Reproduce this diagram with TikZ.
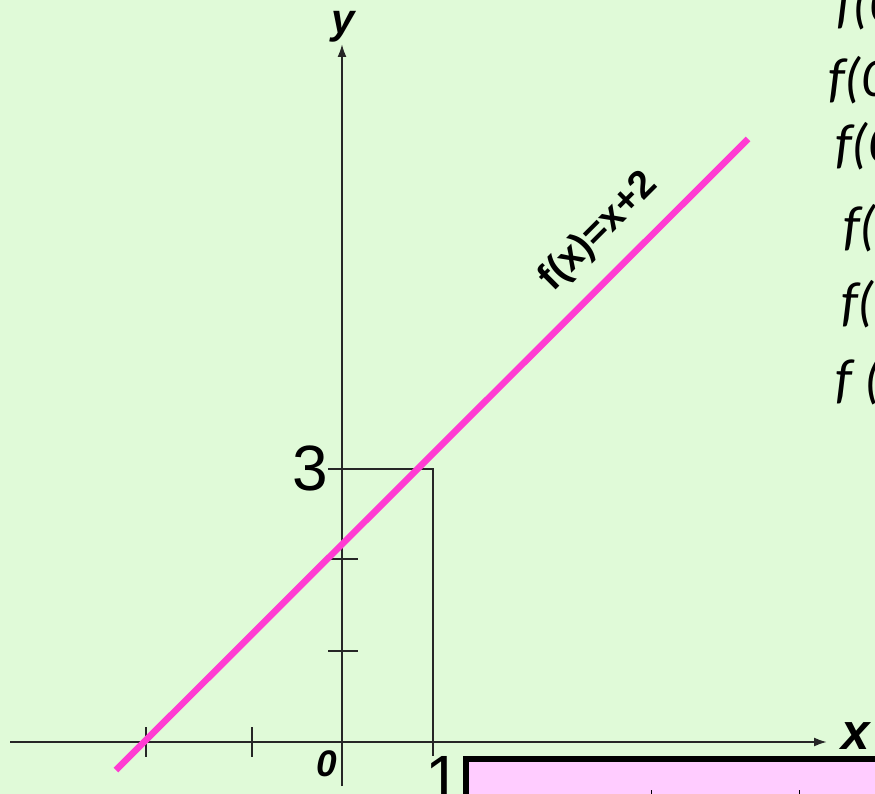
\documentclass[tikz,border=0pt]{standalone}
\usepackage{fontspec}
\setmainfont{Liberation Sans}
\newfontfamily\calibfont{Carlito}
\usetikzlibrary{arrows.meta}
\definecolor{bgc}{RGB}{224,250,216}
\definecolor{linec}{RGB}{255,60,210}
\definecolor{boxc}{RGB}{255,204,255}
\tikzset{
  axis/.style={line width=2pt, draw=black!85, -{Latex[length=13pt,width=9pt]}},
  thin/.style={line width=2pt, draw=black!85},
  lbl/.style={inner sep=0pt, outer sep=0pt, anchor=base west},
  rtxt/.style={inner sep=0pt, outer sep=0pt, anchor=base west, font=\calibfont\itshape\fontsize{55}{55}\selectfont},
}
\begin{document}
\begin{tikzpicture}[x=1pt,y=-1pt]
\useasboundingbox (0,0) rectangle (875,794);
\clip (0,0) rectangle (875,794);
\fill[bgc] (0,0) rectangle (875,794);
% coordinates
\coordinate (xs) at (10,742);
\coordinate (xe) at (827,742);
\coordinate (ys) at (342,786);
\coordinate (ye) at (342,44);
\coordinate (p3) at (328,469);
\coordinate (q3) at (433,469);
\coordinate (q1) at (433,756);
\coordinate (la) at (116,770);
\coordinate (lb) at (748,139);
% box
\node[draw=black, line width=6pt, fill=boxc, minimum width=500pt, minimum height=150pt, anchor=north west, inner sep=0pt] (box) at (463,756) {};
\draw[line width=0.8pt] (651,790) -- (651,794) (799,790) -- (799,794);
% axes
\draw[axis] (xs) -- (xe);
\draw[axis] (ys) -- (ye);
% ticks
\draw[thin] (146,727) -- (146,757);
\draw[thin] (252,727) -- (252,757);
\draw[thin] (328,651) -- (358,651);
\draw[thin] (328,559) -- (358,559);
\draw[line width=2.8pt, draw=black!85] (403,742) -- (417,742);
% guide lines for point (1,3)
\draw[thin] (p3) -- (q3) -- (q1);
% function line
\draw[linec, line width=6.5pt] (la) -- (lb);
\node[inner sep=0pt, rotate=45, font=\bfseries\fontsize{39}{39}\selectfont] (fl) at (599,232) {f(x)=x+2};
% labels
\node[lbl, font=\bfseries\itshape\fontsize{42}{42}\selectfont] (ylab) at (331,34) {y};
\node[lbl, font=\bfseries\itshape\fontsize{51}{51}\selectfont] (xlab) at (841,749) {x};
\node[lbl, font=\bfseries\itshape\fontsize{37}{37}\selectfont] (zlab) at (316,776) {0};
\node[lbl, font=\fontsize{64}{64}\selectfont] (tlab) at (292,490) {3};
\node[lbl, font=\fontsize{64}{64}\selectfont] (olab) at (425,800) {1};
% right-hand text
\node[rtxt] (r1) at (836,23) {f(0};
\node[rtxt] (r2) at (828,97) {f(0};
\node[rtxt] (r3) at (835,163) {f(0};
\node[rtxt] (r4) at (843,245) {f(0};
\node[rtxt] (r5) at (841,320) {f(0};
\node[rtxt] (r6) at (835,397) {f (0};
\end{tikzpicture}
\end{document}
